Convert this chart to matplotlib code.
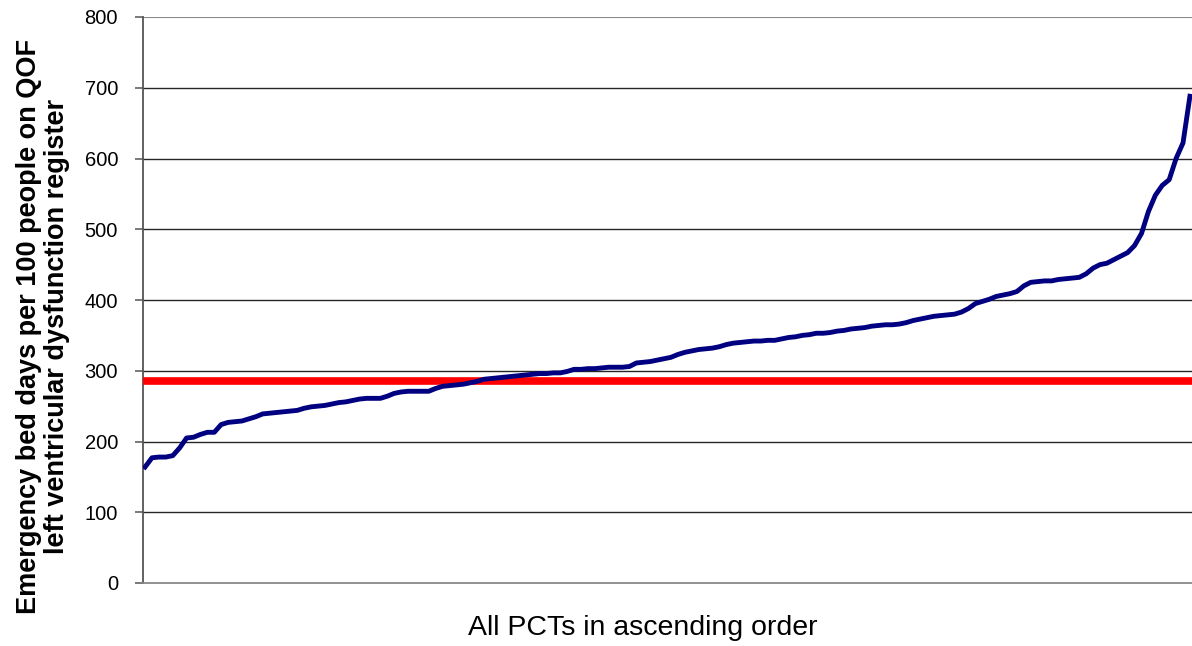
import matplotlib
matplotlib.use("Agg")
import matplotlib.pyplot as plt
import numpy as np

# --- data: emergency bed days per 100 people, PCTs sorted ascending ---
bed_days = [
    164, 177, 178, 178, 180, 191, 205, 206, 210, 213,
    213, 224, 227, 228, 229, 232, 235, 239, 240, 241,
    242, 243, 244, 247, 249, 250, 251, 253, 255, 256,
    258, 260, 261, 261, 261, 264, 268, 270, 271, 271,
    271, 271, 275, 278, 279, 280, 281, 283, 285, 288,
    289, 290, 291, 292, 293, 294, 295, 296, 296, 297,
    297, 299, 302, 302, 303, 303, 304, 305, 305, 305,
    306, 311, 312, 313, 315, 317, 319, 323, 326, 328,
    330, 331, 332, 334, 337, 339, 340, 341, 342, 342,
    343, 343, 345, 347, 348, 350, 351, 353, 353, 354,
    356, 357, 359, 360, 361, 363, 364, 365, 365, 366,
    368, 371, 373, 375, 377, 378, 379, 380, 383, 388,
    395, 398, 401, 405, 407, 409, 412, 420, 425, 426,
    427, 427, 429, 430, 431, 432, 437, 445, 450, 452,
    457, 462, 467, 477, 494, 525, 548, 562, 570, 600,
    622, 688,
]
england_average = 286
y_ticks = [0, 100, 200, 300, 400, 500, 600, 700, 800]

ylabel_text = "Emergency bed days per 100 people on QOF\nleft ventricular dysfunction register"
xlabel_text = "All PCTs in ascending order"

# --- figure ---
fig = plt.figure(figsize=(11.92, 6.46), dpi=100)
ax = fig.add_axes([143 / 1192, 1 - 583 / 646, 1 - 143 / 1192, (583 - 17) / 646])

x = np.arange(len(bed_days))
ax.axhline(england_average, color="#ff0000", lw=5.5, zorder=3)
ax.plot(x, bed_days, color="#000080", lw=3.5, zorder=4, solid_joinstyle="round")

ax.set_xlim(-0.3, len(bed_days) - 1 + 0.3)
ax.set_ylim(0, 800)
ax.set_yticks(y_ticks)
ax.set_xticks([])

for v in y_ticks[1:-1]:
    ax.axhline(v, color="#262626", lw=1.0, zorder=1)
ax.axhline(800, color="#888888", lw=1.5, zorder=1)

for s in ["top", "right"]:
    ax.spines[s].set_visible(False)
ax.spines["left"].set_color("#555555")
ax.spines["left"].set_linewidth(1.3)
ax.spines["bottom"].set_color("#888888")
ax.spines["bottom"].set_linewidth(1.3)

ax.tick_params(axis="y", length=6, width=1.1, color="#555555", pad=12,
               labelsize=14.5)
for lab in ax.get_yticklabels():
    lab.set_fontfamily("Liberation Sans")

fig.text(43 / 1192, 1 - 326 / 646, ylabel_text, rotation=90, ha="center", va="center",
         multialignment="center", fontsize=19.5, fontweight="bold",
         family="Liberation Sans", linespacing=1.08)
fig.text(643 / 1192, 1 - 628 / 646, xlabel_text, ha="center", va="center",
         fontsize=20.5, family="Liberation Sans")

fig.savefig("out.png", dpi=100)
